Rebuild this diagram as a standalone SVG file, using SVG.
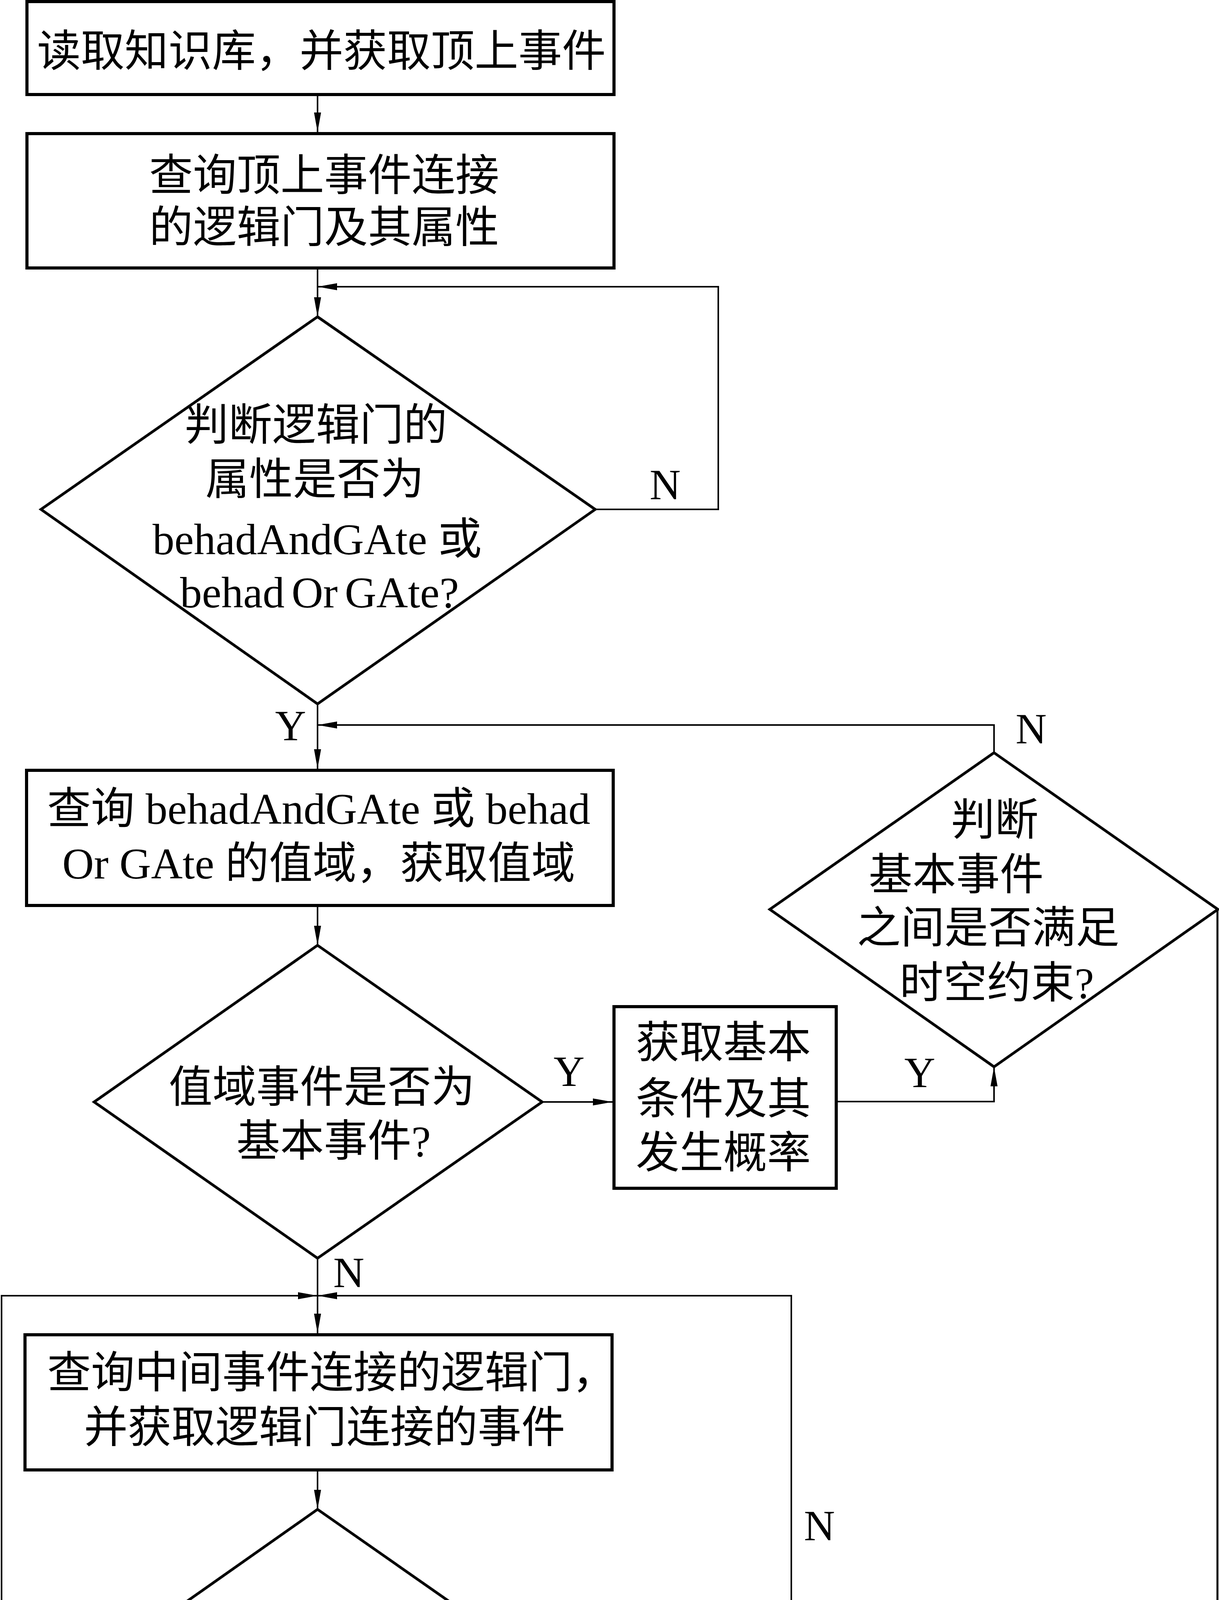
<svg xmlns="http://www.w3.org/2000/svg" width="3121" height="5927" viewBox="0 0 3121 5927">
<style>
.box{fill:#fff;stroke:#000;stroke-width:8}
.dia{fill:#fff;stroke:#000;stroke-width:7;stroke-linejoin:miter}
.conn{fill:none;stroke:#000;stroke-width:4}
.t{font-family:'Liberation Serif','Noto Sans CJK SC',serif;font-size:112px;fill:#000;text-anchor:middle}
.lbl{font-family:'Liberation Serif','Noto Sans CJK SC',serif;font-size:110px;fill:#000;text-anchor:middle}
</style>
<defs>
<marker id="arr" markerUnits="userSpaceOnUse" markerWidth="50" markerHeight="20" refX="50" refY="10" orient="auto" viewBox="0 0 50 20">
<path d="M0,1 L50,10 L0,19 Z" fill="#000"/>
</marker>
</defs>
<rect x="0" y="0" width="3121" height="5927" fill="#fff"/>

<g id="b1">
<rect class="box" x="69" y="4" width="1503" height="238"/>
<text class="t" x="823" y="170">读取知识库，并获取顶上事件</text>
</g>
<g id="b2">
<rect class="box" x="69" y="342" width="1503" height="344"/>
<text class="t" x="830" y="488">查询顶上事件连接</text>
<text class="t" x="830" y="621">的逻辑门及其属性</text>
</g>
<g id="d1">
<polygon class="dia" points="813,811 1524,1304 813,1802 105,1304"/>
<text class="t" x="809" y="1127">判断逻辑门的</text>
<text class="t" x="806" y="1266">属性是否为</text>
<text class="t" x="812" y="1419">behadAndGAte 或</text>
<text class="t" x="818" y="1555" word-spacing="-10">behad Or GAte?</text>
</g>
<g id="b3">
<rect class="box" x="68" y="1972" width="1502" height="346"/>
<text class="t" x="816" y="2109">查询 behadAndGAte 或 behad</text>
<text class="t" x="816" y="2249">Or GAte 的值域，获取值域</text>
</g>
<g id="d2">
<polygon class="dia" points="813,2420 1388,2821 813,3221 241,2821"/>
<text class="t" x="824" y="2822">值域事件是否为</text>
<text class="t" x="854" y="2960">基本事件?</text>
</g>
<g id="b4">
<rect class="box" x="1572" y="2577" width="569" height="465"/>
<text class="t" x="1852" y="2708">获取基本</text>
<text class="t" x="1852" y="2852">条件及其</text>
<text class="t" x="1852" y="2990">发生概率</text>
</g>
<g id="d3">
<polygon class="dia" points="2545,1927 3118,2328 2545,2731 1971,2328"/>
<text class="t" x="2547" y="2138">判断</text>
<text class="t" x="2448" y="2278">基本事件</text>
<text class="t" x="2530" y="2414">之间是否满足</text>
<text class="t" x="2552" y="2555">时空约束?</text>
</g>
<g id="b5">
<rect class="box" x="64" y="3417" width="1503" height="346"/>
<text class="t" x="849" y="3553">查询中间事件连接的逻辑门，</text>
<text class="t" x="831" y="3693">并获取逻辑门连接的事件</text>
</g>
<g id="d4">
<polygon class="dia" points="813,3864 1388,4266 813,4667 242,4266"/>
<text class="t" x="801" y="4252">事件是否为</text>
<text class="t" x="782" y="4390">基本事件?</text>
</g>
<g id="b6">
<rect class="box" x="358" y="4851" width="933" height="365"/>
<text class="t" x="822" y="5002">获取基本事件</text>
<text class="t" x="822" y="5142">及其发生概率</text>
</g>
<g id="d5">
<polygon class="dia" points="2026,4634 2599,5034 2026,5434 1456,5034"/>
<text class="t" x="2027" y="4902">判断基本</text>
<text class="t" x="2026" y="5042">事件之间是否</text>
<text class="t" x="2030" y="5177">满足时空约束?</text>
</g>
<g id="b7">
<rect class="box" x="1783" y="5580" width="554" height="342"/>
<text class="t" x="2062" y="5757">计算顶上</text>
<text class="t" x="2062" y="5889">事件概率</text>
</g>

<g id="connectors">
<path class="conn" d="M813,246 L813,338" marker-end="url(#arr)"/>
<path class="conn" d="M813,690 L813,811" marker-end="url(#arr)"/>
<path class="conn" d="M1524,1304 L1839,1304 L1839,734 L813,734" marker-end="url(#arr)"/>
<path class="conn" d="M813,1802 L813,1968" marker-end="url(#arr)"/>
<path class="conn" d="M2545,1927 L2545,1856 L813,1856" marker-end="url(#arr)"/>
<path class="conn" d="M813,2322 L813,2420" marker-end="url(#arr)"/>
<path class="conn" d="M1388,2821 L1568,2821" marker-end="url(#arr)"/>
<path class="conn" d="M2145,2820 L2545,2820 L2545,2731" marker-end="url(#arr)"/>
<path class="conn" d="M813,3221 L813,3413" marker-end="url(#arr)"/>
<path class="conn" d="M242,4266 L4,4266 L4,3317 L813,3317" marker-end="url(#arr)"/>
<path class="conn" d="M2026,4634 L2026,3317 L813,3317" marker-end="url(#arr)"/>
<path class="conn" d="M813,3767 L813,3864" marker-end="url(#arr)"/>
<path class="conn" d="M813,4667 L813,4847" marker-end="url(#arr)"/>
<path class="conn" d="M1295,5034 L1456,5034" marker-end="url(#arr)"/>
<path class="conn" d="M2026,5434 L2026,5576" marker-end="url(#arr)"/>
<path class="conn" style="stroke-width:5" d="M3117,2328 L3117,5765 L2341,5765" marker-end="url(#arr)"/>
<text class="lbl" x="1703" y="1278">N</text>
<text class="lbl" x="744" y="1895">Y</text>
<text class="lbl" x="2640" y="1903">N</text>
<text class="lbl" x="1457" y="2780">Y</text>
<text class="lbl" x="2355" y="2783">Y</text>
<text class="lbl" x="893" y="3295">N</text>
<text class="lbl" x="2098" y="3943">N</text>
<text class="lbl" x="139" y="4224">N</text>
<text class="lbl" x="891" y="4779">Y</text>
<text class="lbl" x="1935" y="5533">Y</text>
</g>
</svg>
